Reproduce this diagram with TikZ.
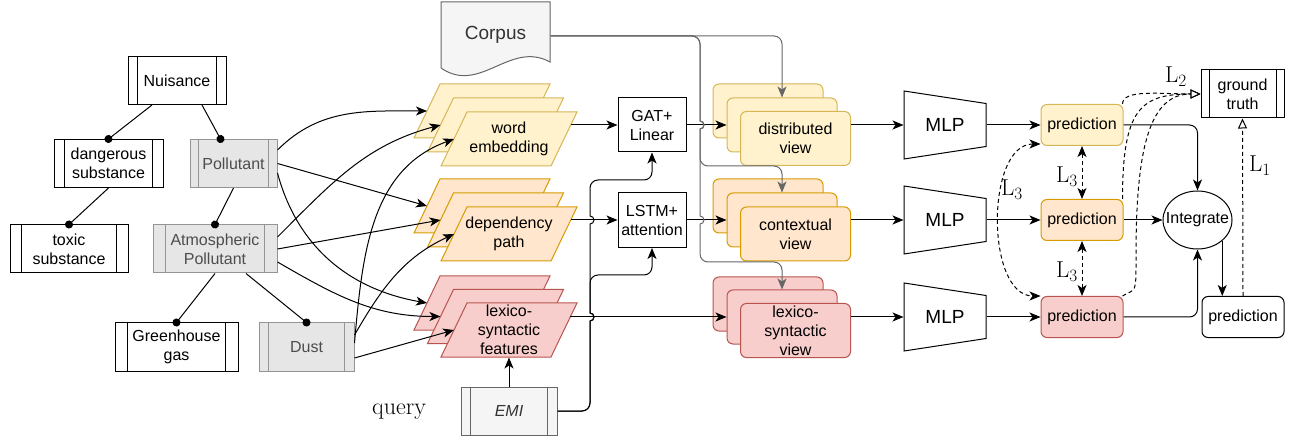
\documentclass[tikz,border=0pt]{standalone}
\usepackage{fontspec}
\newfontfamily\sfx{Liberation Sans}
\usetikzlibrary{arrows.meta,shapes.geometric}
\definecolor{yF}{HTML}{FFF2CC}\definecolor{yD}{HTML}{D6B656}
\definecolor{oF}{HTML}{FFE6CC}\definecolor{oD}{HTML}{D79B00}
\definecolor{rF}{HTML}{F8CECC}\definecolor{rD}{HTML}{B85450}
\definecolor{gF}{HTML}{E6E6E6}\definecolor{gD}{HTML}{949494}\definecolor{gT}{HTML}{4D4D4D}
\definecolor{cF}{HTML}{F5F5F5}\definecolor{cD}{HTML}{666666}\definecolor{cT}{HTML}{333333}
\newcommand\pgm[3]{\filldraw[#3] ({#1-42},{#2-27}) -- ({#1+68},{#2-27}) -- ({#1+42},{#2+27}) -- ({#1-68},{#2+27}) -- cycle;}
\newcommand\mlpshape[2]{\draw[fill=white] ({#1-41},{#2-34}) -- ({#1+41},{#2-21.5}) -- ({#1+41},{#2+21.5}) -- ({#1-41},{#2+34}) -- cycle;}
\begin{document}
\begin{tikzpicture}[x=1pt,y=-1pt,line width=1pt,
  every node/.style={inner sep=0pt},
  lbl/.style={font=\sfx\fontsize{16}{19}\selectfont, align=center},
  tip/.tip={Stealth[length=11pt,width=9pt,inset=3pt]},
  arr/.style={-tip},
  dsh/.style={dash pattern=on 4pt off 3pt},
  otri/.style={-{Triangle[fill=white,length=10pt,width=9pt]}},
  dotend/.style={-{Circle[length=8pt]}, shorten >=-4pt},
  jup/.style={},
  proc/.style 2 args={draw=#2, minimum height=48pt, path picture={
    \draw[#2,line width=1pt] ([xshift=#1]path picture bounding box.north west) -- ([xshift=#1]path picture bounding box.south west);
    \draw[#2,line width=1pt] ([xshift=-#1]path picture bounding box.north east) -- ([xshift=-#1]path picture bounding box.south east);}},
  tax/.style={proc={#1}{black}, fill=white, lbl},
  taxg/.style={proc={#1}{gD}, fill=gF, text=gT, lbl},
  yview/.style={draw=yD, fill=yF, rounded corners=6pt, minimum width=110pt, minimum height=54pt},
  oview/.style={draw=oD, fill=oF, rounded corners=6pt, minimum width=110pt, minimum height=54pt},
  rview/.style={draw=rD, fill=rF, rounded corners=6pt, minimum width=110pt, minimum height=54pt},
  pred/.style={rounded corners=6pt, minimum width=82pt, minimum height=41pt, lbl},
  llab/.style={font=\fontsize{23}{26}\selectfont},
  gline/.style={draw=cD, -{Stealth[length=11pt,width=9pt,inset=3pt,fill=cD]}}]
\useasboundingbox (0,0) rectangle (1293,438);

% taxonomy
\node[tax=9.8pt, minimum width=98pt] (nuis) at (177,80.5) {Nuisance};
\node[tax=10.9pt, minimum width=109pt] (dang) at (108.5,163.5) {dangerous\\substance};
\node[taxg=8.7pt, minimum width=87pt] (poll) at (233.5,163.5) {Pollutant};
\node[tax=11.8pt, minimum width=118pt] (toxic) at (69,249) {toxic\\substance};
\node[taxg=12.4pt, minimum width=124pt] (atmo) at (215,249) {Atmospheric\\Pollutant};
\node[tax=12.3pt, minimum width=123pt] (green) at (176.5,347) {Greenhouse\\gas};
\node[taxg=9.5pt, minimum width=95pt] (dust) at (306.5,347) {Dust};

\draw[dotend] ([xshift=-25pt]nuis.south) -- (dang.north);
\draw[dotend] ([xshift=25pt]nuis.south) -- ([xshift=-13pt]poll.north);
\draw[dotend] (dang.south) -- (toxic.north);
\draw[dotend] (poll.south) -- (atmo.north);
\draw[dotend] (atmo.south) -- (green.north);
\draw[dotend] ([xshift=31pt]atmo.south) -- (dust.north);

% parallelogram stacks
\pgm{482}{111}{fill=yF,draw=yD}
\pgm{495.5}{125}{fill=yF,draw=yD}
\pgm{509}{139}{fill=yF,draw=yD}
\pgm{482}{206}{fill=oF,draw=oD}
\pgm{495.5}{220}{fill=oF,draw=oD}
\pgm{509}{234}{fill=oF,draw=oD}
\pgm{482}{303}{fill=rF,draw=rD}
\pgm{495.5}{316.5}{fill=rF,draw=rD}
\pgm{509}{330}{fill=rF,draw=rD}
\node[lbl, minimum width=110pt, minimum height=54pt] (we) at (509,139) {word\\embedding};
\node[lbl, minimum width=110pt, minimum height=54pt] (dp) at (509,234) {dependency\\path};
\node[lbl, minimum width=110pt, minimum height=54pt] (lx) at (509,330) {lexico-\\syntactic\\features};
\coordinate (yb) at (427,111); \coordinate (ym) at (440.5,125); \coordinate (yf) at (454,139);
\coordinate (ob) at (427,206); \coordinate (om) at (440.5,220); \coordinate (of) at (454,234);
\coordinate (rb) at (427,303); \coordinate (rm) at (440.5,316.5); \coordinate (rf) at (454,330);
\coordinate (yR) at (571,125); \coordinate (oR) at (571,220); \coordinate (rR) at (570,317);

% corpus
\filldraw[fill=cF, draw=cD] (441,2) -- (550,2) -- (550,62) .. controls (510,40) and (480,95) .. (441,68) -- cycle;
\node[text=cT, font=\sfx\fontsize{19}{22}\selectfont, minimum width=109pt, minimum height=66pt] (crp) at (495.5,36) {\raisebox{6pt}{Corpus}};

% EMI and query
\node[proc={9.6pt}{cD}, fill=cF, minimum width=96pt, text=cT, font=\sfx\itshape\fontsize{16}{19}\selectfont] (emi) at (509,411) {EMI};
\node[font=\fontsize{24}{28}\selectfont] (qry) at (399,412) {query};

% encoders
\node[draw, fill=white, lbl, minimum width=68pt, minimum height=54pt] (gat) at (652,125) {GAT+\\Linear};
\node[draw, fill=white, lbl, minimum width=68pt, minimum height=55pt] (lstm) at (652,220) {LSTM+\\attention};

% views
\node[yview] (dv0) at (768,111) {};
\node[yview] (dv1) at (782,125) {};
\node[yview, lbl] (dv) at (795.5,138.5) {distributed\\view};
\node[oview] (cv0) at (768,206) {};
\node[oview] (cv1) at (782,220) {};
\node[oview, lbl] (cv) at (795.5,234) {contextual\\view};
\node[rview] (lv0) at (768,304) {};
\node[rview] (lv1) at (782,317) {};
\node[rview, lbl] (lv) at (795.5,330.5) {lexico-\\syntactic\\view};

% MLPs
\mlpshape{945}{125}\mlpshape{945}{220}\mlpshape{945}{317}
\node[font=\sfx\fontsize{19}{22}\selectfont, minimum width=82pt, minimum height=68pt] (mlp1) at (945,125) {MLP};
\node[font=\sfx\fontsize{19}{22}\selectfont, minimum width=82pt, minimum height=68pt] (mlp2) at (945,220) {MLP};
\node[font=\sfx\fontsize{19}{22}\selectfont, minimum width=82pt, minimum height=68pt] (mlp3) at (945,317) {MLP};

% predictions
\node[pred, draw=yD, fill=yF] (p1) at (1082,125) {prediction};
\node[pred, draw=oD, fill=oF] (p2) at (1082,220) {prediction};
\node[pred, draw=rD, fill=rF] (p3) at (1082,317) {prediction};
\node[draw, fill=white, ellipse, minimum width=69pt, minimum height=58pt, lbl] (integ) at (1197.5,220) {\makebox[0pt][c]{Integrate}};
\node[tax=8pt, minimum width=83pt] (gt) at (1242.5,94) {ground\\truth};
\node[pred, draw=black, fill=white] (fp) at (1243,317) {prediction};

% taxonomy -> parallelograms
\draw[arr] ([yshift=13.5pt]poll.east) to[out=45, in=180] (yb);
\draw[arr] (poll.east) -- (ob);
\draw[arr] ([yshift=-9.5pt]poll.east) to[out=-75, in=170] (rb);
\draw[arr] ([yshift=12pt]atmo.east) to[out=45, in=195] (ym);
\draw[arr] (atmo.east) -- (om);
\draw[arr] ([yshift=-13pt]atmo.east) to[out=-30, in=180] (rm);
\draw[arr] ([yshift=4pt]dust.east) to[out=85, in=200] (yf);
\draw[arr] ([yshift=12pt]dust.east) to[out=60, in=205] (of);
\draw[arr] ([yshift=-11pt]dust.east) -- (rf);

% features -> encoders -> views (straight; verticals jump over them)
\draw[arr] (yR) -- (gat.west);
\draw[arr] (oR) -- (lstm.west);
\draw[arr] (rR) -- (lv1.west);
\draw[arr] (gat.east) -- (dv1.west);
\draw[arr] (lstm.east) -- (cv1.west);

% EMI links
\draw[arr] (emi.north) -- (lx.south);
\draw[arr] (emi.east) [rounded corners=8pt] -- (590,411) -- (590,350) [sharp corners] -- (590,321)
  arc[start angle=-90,end angle=90,radius=4pt] -- (590,224) arc[start angle=-90,end angle=90,radius=4pt]
  -- (590,200) [rounded corners=8pt] -- (590,180) -- (652,180) -- (gat.south);
\draw[arr] (emi.east) [rounded corners=8pt] -- (590,411) -- (590,350) [sharp corners] -- (590,321)
  arc[start angle=-90,end angle=90,radius=4pt] -- (590,295) [rounded corners=8pt] -- (590,275) -- (652,275) -- (lstm.south);

% corpus links
\draw[gline] (crp.east) [rounded corners=8pt] -| (dv1.north);
\draw[gline] (crp.east) [rounded corners=8pt] -- (700,36) -- (700,80) [sharp corners] -- (700,121)
  arc[start angle=90,end angle=-90,radius=4pt] -- (700,150) [rounded corners=8pt] -- (700,166) -- (782,166) -- (cv1.north);
\draw[gline] (crp.east) [rounded corners=8pt] -- (700,36) -- (700,80) [sharp corners] -- (700,121)
  arc[start angle=90,end angle=-90,radius=4pt] -- (700,216) arc[start angle=90,end angle=-90,radius=4pt]
  -- (700,245) [rounded corners=8pt] -- (700,262) -- (782,262) -- (lv1.north);

% views -> MLP -> predictions
\draw[arr] (dv.east |- mlp1.west) -- (mlp1.west);
\draw[arr] (cv.east |- mlp2.west) -- (mlp2.west);
\draw[arr] (lv.east |- mlp3.west) -- (mlp3.west);
\draw[arr] (mlp1.east) -- (p1.west);
\draw[arr] (mlp2.east) -- (p2.west);
\draw[arr] (mlp3.east) -- (p3.west);

% integration
\draw[arr, rounded corners=8pt] (p1.east) -| (integ.north);
\draw[arr] (p2.east) -- (integ.west);
\draw[arr, rounded corners=8pt] (p3.east) -| (integ.south);
\draw[arr] (integ.south east) -- (integ.south east |- fp.north);

% losses
\draw[dsh, otri] (fp.north) -- (gt.south);
\draw[dsh, tip-tip] (p1.south) -- (p2.north);
\draw[dsh, tip-tip] (p2.south) -- (p3.north);
\draw[dsh, tip-tip] ([yshift=2pt]p1.south west) .. controls +(-55pt,0pt) and +(-55pt,0pt) .. (p3.north west);
\draw[dsh, otri] ([xshift=-1pt]p1.north east) .. controls +(0pt,15pt) and +(-40pt,0pt) .. (gt.west);
\draw[dsh, otri] ([xshift=-1pt]p2.north east) .. controls +(0pt,90pt) and +(-60pt,0pt) .. (gt.west);
\draw[dsh, otri] ([xshift=-1pt]p3.north east) .. controls +(14pt,8pt) and +(0pt,-40pt) .. (1136,255) .. controls +(0pt,110pt) and +(-50pt,0pt) .. (gt.west);

\node[llab] (l2) at (1176,77) {$\mathrm{L}_2$};
\node[llab] (l1) at (1260,166) {$\mathrm{L}_1$};
\node[llab] (l3a) at (1067,177) {$\mathrm{L}_3$};
\node[llab] (l3b) at (1067,272) {$\mathrm{L}_3$};
\node[llab] (l3c) at (1012,190) {$\mathrm{L}_3$};
\end{tikzpicture}
\end{document}
